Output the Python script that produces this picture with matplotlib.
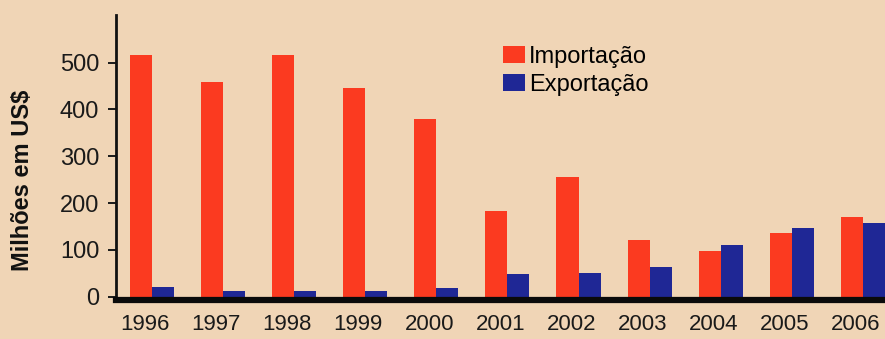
# Import libraries
# -----------------
import numpy as np
import matplotlib.pyplot as plt

# Data (Milhões em US$)
# -----------------
anos = ['1996', '1997', '1998', '1999', '2000', '2001',
        '2002', '2003', '2004', '2005', '2006']
importacao = [516, 459, 516, 445, 380, 183, 256, 121, 98, 135, 170]
exportacao = [21, 12, 12, 11, 19, 48, 50, 63, 110, 147, 157]

# Style
# -----------------
bg = '#f0d5b6'
red = '#fb3a20'
blue = '#1f2795'
plt.rcParams['font.family'] = ['Liberation Sans', 'DejaVu Sans']

fig = plt.figure(figsize=(8.85, 3.39), dpi=100, facecolor=bg)
ax = fig.add_axes([0.1311, 0.116, 0.869, 0.84], facecolor=bg)

x = np.arange(len(anos))
w = 0.31
ax.bar(x - w / 2, importacao, width=w, color=red, label='Importação')
ax.bar(x + w / 2, exportacao, width=w, color=blue, label='Exportação')

ax.set_xlim(-0.502, 10.31)
ax.set_ylim(-6.5, 602)

# Axes
# -----------------
for s in ['top', 'right']:
    ax.spines[s].set_visible(False)
ax.spines['left'].set_linewidth(2.0)
ax.spines['left'].set_color('#111111')
ax.spines['bottom'].set_linewidth(4.5)
ax.spines['bottom'].set_color('#0a0a0a')

ax.set_yticks([0, 100, 200, 300, 400, 500])
ax.tick_params(axis='y', length=6, width=1.4, pad=6, labelsize=17,
               colors='#1a1a1a')
ax.set_xticks(x - 0.1)
ax.set_xticklabels(anos)
ax.tick_params(axis='x', length=0, pad=10, labelsize=16, colors='#1a1a1a')

# y label, placed a bit lower than the axis centre as in the original
fig.text(23 / 885, 1 - 180 / 339, 'Milhões em US$', rotation=90,
         ha='center', va='center', fontsize=17, fontweight='bold',
         color='#111111')

# Legend
# -----------------
ax.legend(loc='upper left', bbox_to_anchor=(503 / 885, (339 - 46) / 339),
          bbox_transform=fig.transFigure, frameon=False, fontsize=17,
          handlelength=0.95, handleheight=0.7, handletextpad=0.15,
          labelspacing=0.25, borderpad=0, borderaxespad=0)

plt.savefig('out.png', dpi=100, facecolor=bg)
